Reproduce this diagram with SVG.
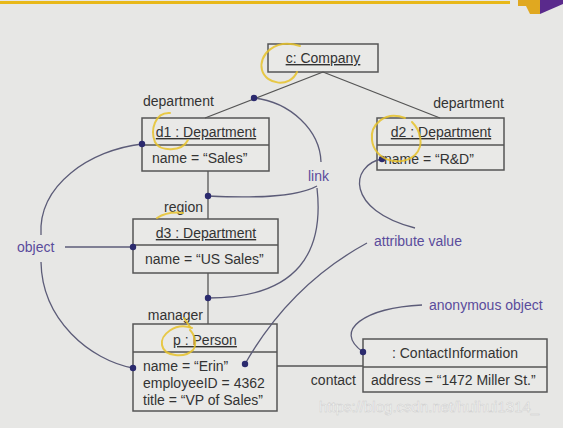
<svg xmlns="http://www.w3.org/2000/svg" width="563" height="428" viewBox="0 0 563 428">
<style>
  .box{fill:#e9e9e7;stroke:#555;stroke-width:1.5}
  .div{stroke:#555;stroke-width:1.5}
  .t{font-family:"Liberation Sans",Arial,sans-serif;font-size:14px;fill:#333}
  .title{text-anchor:middle;text-decoration:underline}
  .lbl{font-family:"Liberation Sans",Arial,sans-serif;font-size:14px;fill:#5a4c9c}
  .ln{fill:none;stroke:#555;stroke-width:1.3}
  .note{fill:none;stroke:#5c5c78;stroke-width:1.3}
  .dot{fill:#2b2a6e}
  .hl{fill:none;stroke:#e6c22a;stroke-width:2;stroke-linecap:round;opacity:0.85}
</style>
<rect x="0" y="0" width="563" height="428" fill="#e7e7e5"/>
<g id="header">
  <rect x="0" y="1" width="510" height="3" fill="#e8b818"/>
  <polygon points="518,0 540,0 540,14 530,14 526,6 518,6" fill="#e0a820"/>
  <polygon points="540,0 563,0 563,4 540,14" fill="#5a2a8c"/>
</g>
<g id="roleLabels">
  <text class="t" x="143" y="106">department</text>
  <text class="t" x="504" y="108" text-anchor="end">department</text>
  <text class="t" x="203" y="212" text-anchor="end">region</text>
  <text class="t" x="203" y="320" text-anchor="end">manager</text>
  <text class="t" x="356" y="385" text-anchor="end">contact</text>
</g>
<g id="company">
  <rect class="box" x="268" y="44" width="110" height="28"/>
  <text class="t title" x="323" y="63">c: Company</text>
</g>
<g id="d1">
  <rect class="box" x="142" y="118" width="127" height="53"/>
  <line class="div" x1="142" y1="145" x2="269" y2="145"/>
  <text class="t title" x="206" y="137">d1 : Department</text>
  <text class="t" x="152" y="163">name = “Sales”</text>
</g>
<g id="d2">
  <rect class="box" x="377" y="118" width="127" height="52"/>
  <line class="div" x1="377" y1="145" x2="504" y2="145"/>
  <text class="t title" x="441" y="137">d2 : Department</text>
  <text class="t" x="384" y="164">name = “R&amp;D”</text>
</g>
<g id="d3">
  <rect class="box" x="133" y="219" width="145" height="54"/>
  <line class="div" x1="133" y1="245" x2="278" y2="245"/>
  <text class="t title" x="206" y="238">d3 : Department</text>
  <text class="t" x="145" y="264">name = “US Sales”</text>
</g>
<g id="person">
  <rect class="box" x="133" y="324" width="144" height="87"/>
  <line class="div" x1="133" y1="352" x2="277" y2="352"/>
  <text class="t title" x="205" y="345">p : Person</text>
  <text class="t" x="143" y="371">name = “Erin”</text>
  <text class="t" x="143" y="388">employeeID = 4362</text>
  <text class="t" x="143" y="405">title = “VP of Sales”</text>
</g>
<g id="contact">
  <rect class="box" x="363" y="339" width="184" height="53"/>
  <line class="div" x1="363" y1="367" x2="547" y2="367"/>
  <text class="t" x="455" y="358" text-anchor="middle">: ContactInformation</text>
  <text class="t" x="371" y="385">address = “1472 Miller St.”</text>
</g>
<g id="connectors">
  <line class="ln" x1="323" y1="72" x2="205" y2="118"/>
  <line class="ln" x1="323" y1="72" x2="440" y2="118"/>
  <line class="ln" x1="208" y1="171" x2="208" y2="219"/>
  <line class="ln" x1="208" y1="273" x2="208" y2="324"/>
  <line class="ln" x1="277" y1="366" x2="363" y2="366"/>
  <path class="note" d="M254,98 C290,102 320,130 321,162"/>
  <path class="note" d="M208,196 C250,198 295,198 317,186"/>
  <path class="note" d="M317,188 C324,250 300,298 208,298"/>
  <line class="note" x1="65" y1="247" x2="133" y2="247"/>
  <path class="note" d="M41,235 C38,185 90,150 142,144"/>
  <path class="note" d="M41,262 C42,320 90,360 133,368"/>
  <path class="note" d="M245,364 Q290,285 367,243"/>
  <path class="note" d="M382,159 C350,165 345,210 415,228"/>
  <path class="note" d="M422,305 C365,308 332,330 363,352"/>
  <circle class="dot" cx="254" cy="98" r="3.2"/>
  <circle class="dot" cx="208" cy="196" r="3.2"/>
  <circle class="dot" cx="208" cy="298" r="3.2"/>
  <circle class="dot" cx="142" cy="144" r="3.2"/>
  <circle class="dot" cx="133" cy="247" r="3.2"/>
  <circle class="dot" cx="133" cy="368" r="3.2"/>
  <circle class="dot" cx="245" cy="364" r="3.2"/>
  <circle class="dot" cx="382" cy="159" r="3.2"/>
  <circle class="dot" cx="363" cy="352" r="3.2"/>
</g>
<g id="notes">
  <text class="lbl" x="308" y="181">link</text>
  <text class="lbl" x="17" y="252">object</text>
  <text class="lbl" x="374" y="246">attribute value</text>
  <text class="lbl" x="429" y="310">anonymous object</text>
</g>
<g id="highlights">
  <path class="hl" d="M300,46 C275,38 258,55 262,70 C266,85 290,88 297,72"/>
  <path class="hl" d="M170,113 C155,112 150,130 155,142 C160,152 182,152 188,140"/>
  <path class="hl" d="M405,118 C385,110 370,125 372,140 C374,160 400,168 415,155 C425,145 420,130 412,122"/>
  <path class="hl" d="M192,328 C175,322 160,335 162,345 C164,357 185,358 193,350 C197,345 195,335 190,330"/>
  <path class="hl" d="M184,318 L190,327"/>
  <path class="hl" d="M157,218 C165,213 175,212 183,213"/>
</g>
<text x="319" y="412" font-family="'Liberation Sans',Arial,sans-serif" font-size="15" fill="#ffffff" stroke="#c8c8c8" stroke-width="0.5" opacity="0.85">https://blog.csdn.net/huihui1314_</text>
</svg>
